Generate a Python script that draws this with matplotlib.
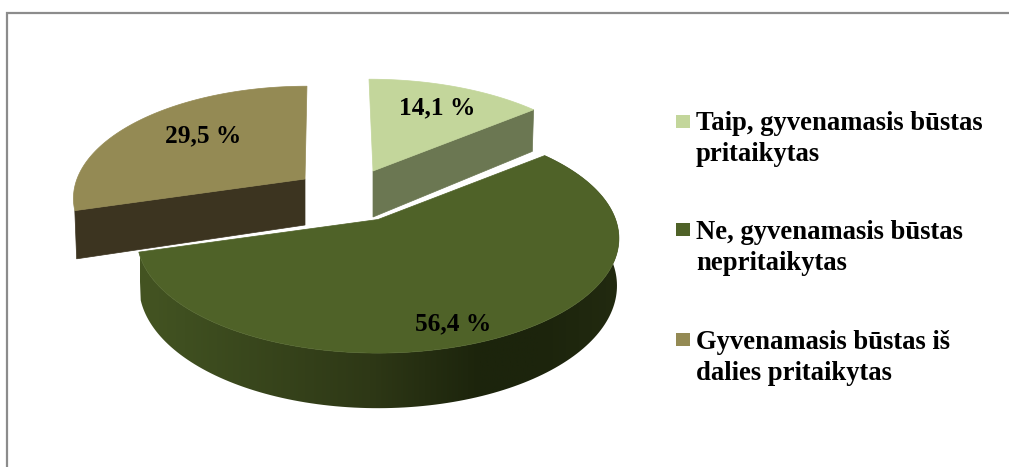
import numpy as np
from matplotlib import pyplot as plt
from matplotlib.colors import LinearSegmentedColormap
from matplotlib.patches import Polygon, Rectangle

# ---------------- data ----------------
LEGEND_TEXT = ['Taip, gyvenamasis būstas\npritaikytas',
		'Ne, gyvenamasis būstas\nnepritaikytas',
		'Gyvenamasis būstas iš\ndalies pritaikytas']
VALUES = [14.1, 56.4, 29.5]
TOP_COLORS = ['#C3D69B', '#4F6228', '#948A54']
CUT_COLORS = ['#6B7752', None, '#3C3420']

# ---------------- layout (pixels) ----------------
VERTEX = [(373, 171), (378, 219.5), (305, 179)]   # where each slice's point sits
SCALE_X = [0.97, 0.99, 0.95]
SCALE_Y = [0.93, 0.97, 0.94]
LEAN = [-0.02, 0.0, 0.01]
LABEL_POS = [(437, 108), (453, 324), (203, 136)]
LEGEND_Y = [121, 229.5, 339.5]
RX, RY, DEPTH, K = 240, 115, 46, 0.165

# side of the big slice goes dark from left to right
RIM_X = [140, 184, 370, 480, 540, 620]
RIM_C = ['#445422', '#3F4F20', '#2E3816', '#1C240C', '#1C240C', '#222A10']


def project(theta, r, z, i):
	'''Takes pie angle (clockwise from north), radius 0-1, height 0-1 and slice index.
	Returns pixel x, y with a small perspective.'''
	x3 = r * np.sin(theta)
	y3 = r * np.cos(theta)
	w = 1 / (1 + K * y3)
	x = RX * SCALE_X[i] * (x3 + LEAN[i] * y3) * w * (1 - 0.008 * z)
	y = -RY * SCALE_Y[i] * y3 * w + z * DEPTH * w
	return VERTEX[i][0] + x, VERTEX[i][1] + y


plt.rcParams['font.family'] = ['Liberation Serif', 'DejaVu Serif']
fig = plt.figure(figsize=(10.09, 4.67), dpi=100)
ax = fig.add_axes([0, 0, 1, 1])
ax.set_xlim(0, 1009)
ax.set_ylim(467, 0)
ax.axis('off')

# frame, only top and left show
ax.plot([7, 7, 1009], [467, 13, 13], color='#8C8C8C', lw=1.6, solid_joinstyle='miter')

edges = np.radians(np.concatenate([[0], np.cumsum(VALUES)]) * 3.6)
span = RIM_X[-1] - RIM_X[0]
rim_cmap = LinearSegmentedColormap.from_list('rim', [((x - RIM_X[0]) / span, c) for x, c in zip(RIM_X, RIM_C)])

# big slice goes last, it sits in front of the two pulled out ones
for i in [0, 2, 1]:
	t0, t1 = edges[i], edges[i + 1]
	arc = np.linspace(t0, t1, 160)

	if i == 1:  # outer wall with the shading, a gradient image clipped to the wall
		x_up, y_up = project(arc, 1, 0, i)
		x_down, y_down = project(arc, 1, 1, i)
		wall = Polygon(np.column_stack([np.concatenate([x_up, x_down[::-1]]),
			np.concatenate([y_up, y_down[::-1]])]), closed=True, fc='none', ec='none', transform=ax.transData)
		ax.add_patch(wall)
		img = ax.imshow(np.linspace(0, 1, 256).reshape(1, -1), cmap=rim_cmap, aspect='auto', zorder=2,
			extent=(RIM_X[0], RIM_X[-1], 420, 140))
		img.set_clip_path(wall)
		ax.set_xlim(0, 1009)
		ax.set_ylim(467, 0)
	else:  # flat cut face of the pulled out slice
		t = t1 if i == 0 else t0
		xs = [project(0, 0, 0, i)[0], project(t, 1, 0, i)[0], project(t, 1, 1, i)[0], project(0, 0, 1, i)[0]]
		ys = [project(0, 0, 0, i)[1], project(t, 1, 0, i)[1], project(t, 1, 1, i)[1], project(0, 0, 1, i)[1]]
		ax.fill(xs, ys, color=CUT_COLORS[i], lw=0.5, zorder=2)

	top_x, top_y = project(arc, 1, 0, i)
	vx, vy = project(0, 0, 0, i)
	ax.fill(np.concatenate([[vx], top_x]), np.concatenate([[vy], top_y]), color=TOP_COLORS[i], lw=0.5, zorder=3)

	ax.text(*LABEL_POS[i], '{:.1f} %'.format(VALUES[i]).replace('.', ','), ha='center', va='center',
		fontsize=18.3, fontweight='bold', color='black', zorder=5)

# legend
for i, label in enumerate(LEGEND_TEXT):
	ax.add_patch(Rectangle((676, LEGEND_Y[i] - 6.5), 13.5, 13, color=TOP_COLORS[i], lw=0))
	for j, line in enumerate(label.split('\n')):
		ax.text(696, LEGEND_Y[i] + 3 + 30.5 * j, line, ha='left', va='center', fontsize=19.2,
			fontweight='bold', color='black')

fig.savefig('out.png', dpi=100)
